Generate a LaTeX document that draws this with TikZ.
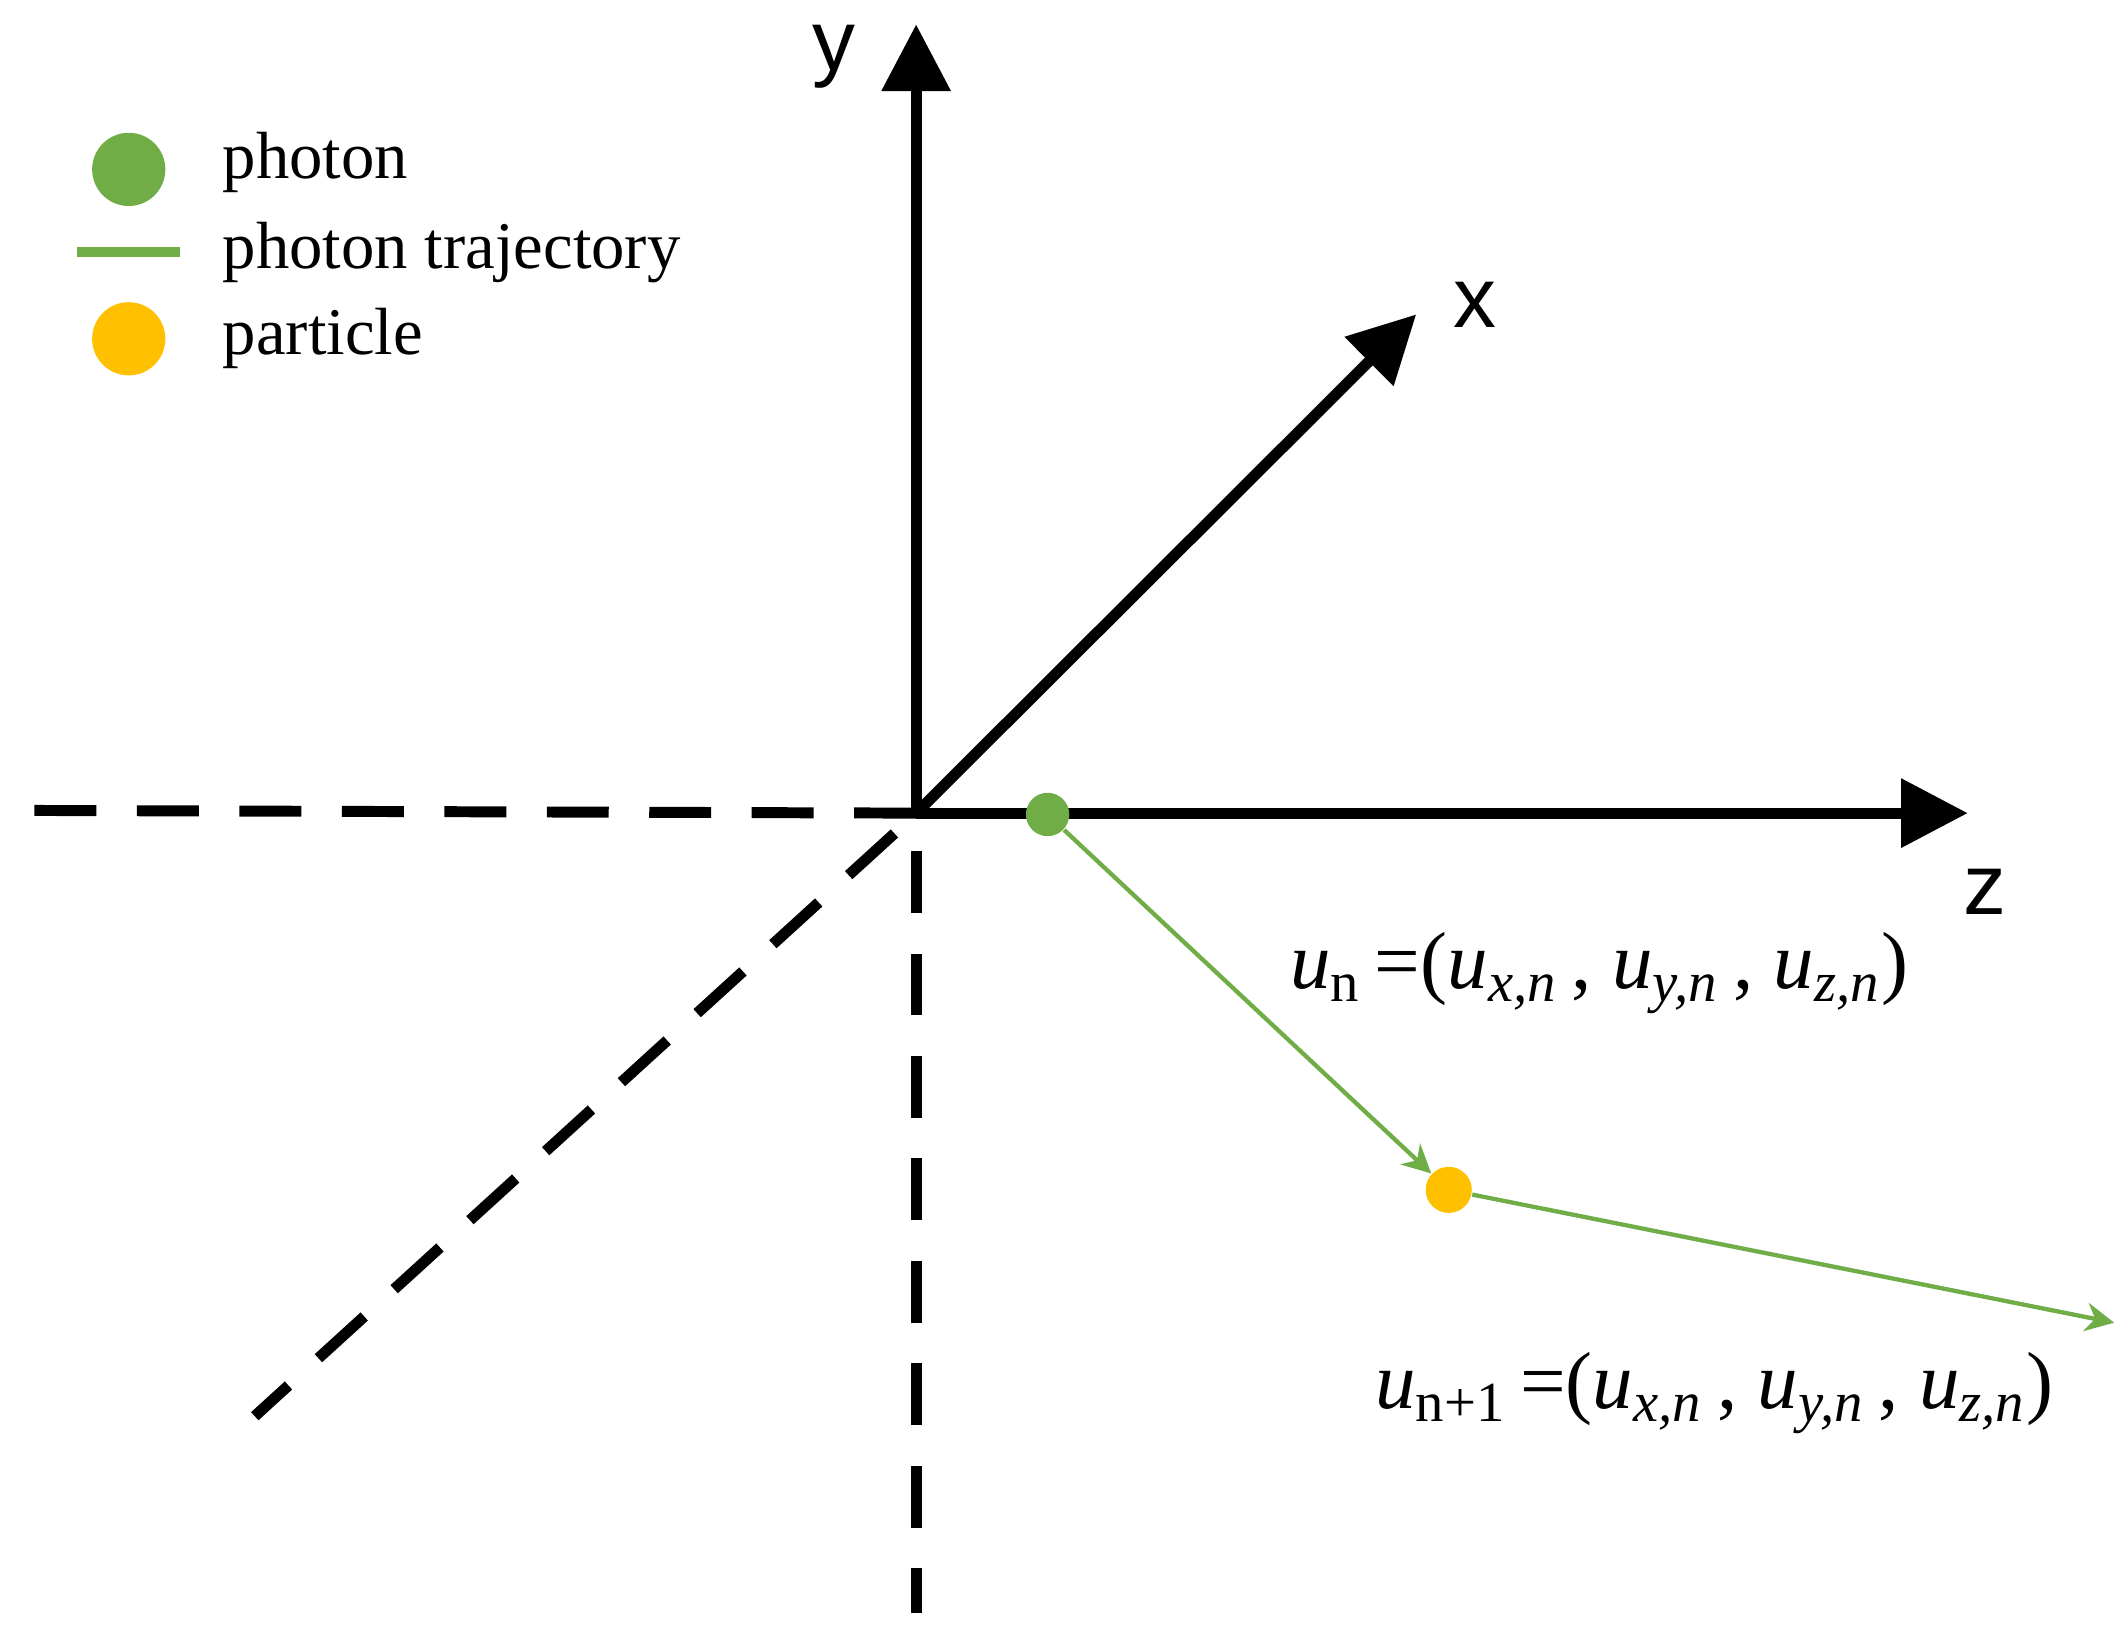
\documentclass[tikz,border=0pt]{standalone}
\usepackage{fontspec}
\setmainfont{Liberation Serif}
\newfontfamily\axfont{Liberation Sans}
\usetikzlibrary{arrows.meta}
\definecolor{pgreen}{RGB}{112,173,71}
\definecolor{pyellow}{RGB}{255,192,0}
\begin{document}
\begin{tikzpicture}[x=0.01cm,y=-0.01cm,
  axis/.style={line width=2.3pt,-{Triangle[length=14pt,width=14pt]}},
  dashln/.style={line width=2.3pt,dash pattern=on 13pt off 8.5pt},
  traj/.style={pgreen,line width=0.9pt,-{Stealth[length=6pt,width=6pt]}},
  axl/.style={font=\axfont\fontsize{18}{22}\selectfont},
  leg/.style={font=\fontsize{14}{17}\selectfont,anchor=west},
  frm/.style={font=\fontsize{17}{20}\selectfont}]
\useasboundingbox (0,0) rectangle (1568,1207);
\coordinate (O) at (676,600);
\coordinate (ytip) at (676,18);
\coordinate (xtip) at (1045,232);
\coordinate (ztip) at (1452,600);
\coordinate (dl) at (15,598);
\coordinate (dd) at (676,1190);
\coordinate (ds) at (660,615);
\coordinate (de) at (188,1045);
\draw[dashln] (O) -- (dl);
\draw[dashln] (O) ++(0,28) -- (dd);
\draw[dashln] (ds) -- (de);
\draw[axis] (O) -- (ytip);
\draw[axis] (O) -- (xtip);
\draw[axis] (O) -- (ztip);
\node[axl] (yl) at (615,42) {y};
\node[axl] (xl) at (1088,225) {x};
\node[axl] (zl) at (1465,658) {z};
\node[circle,fill=pgreen,inner sep=0,minimum size=0.32cm] (ph) at (773,601) {};
\node[circle,fill=pyellow,inner sep=0,minimum size=0.34cm] (pa) at (1069,878) {};
\coordinate (end) at (1560,976);
\draw[traj] (ph) -- (pa);
\draw[traj] (pa) -- (end);
\node[frm] (f1) at (1180,718) {\textit{u}\textsubscript{n}\,=(\textit{u}\textsubscript{\textit{x,n}}\,,\ \textit{u}\textsubscript{\textit{y,n}}\,,\ \textit{u}\textsubscript{\textit{z,n}})};
\node[frm] (f2) at (1265,1028) {\textit{u}\textsubscript{n+1}\,=(\textit{u}\textsubscript{\textit{x,n}}\,,\ \textit{u}\textsubscript{\textit{y,n}}\,,\ \textit{u}\textsubscript{\textit{z,n}})};
\node[circle,fill=pgreen,inner sep=0,minimum size=0.54cm] (lg1) at (95,125) {};
\coordinate (lla) at (57,186);
\coordinate (llb) at (133,186);
\draw[pgreen,line width=2pt] (lla) -- (llb);
\node[circle,fill=pyellow,inner sep=0,minimum size=0.54cm] (lg3) at (95,250) {};
\node[leg] (t1) at (152,120) {photon};
\node[leg] (t2) at (152,186) {photon trajectory};
\node[leg] (t3) at (152,250) {particle};
\end{tikzpicture}
\end{document}
